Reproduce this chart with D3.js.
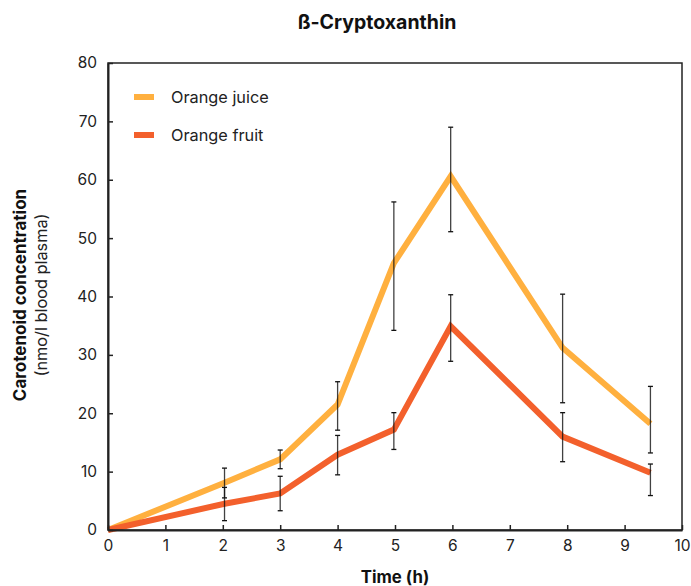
<!DOCTYPE html>
<html>
<head>
<meta charset="utf-8">
<script src="https://cdn.jsdelivr.net/npm/d3@7"></script>
<style>
  body { margin: 0; background: #fff; }
  svg { display: block; font-family: Inter, "Noto Sans", sans-serif; }
</style>
</head>
<body>
<div id="wrapper"></div>
<script>
// time points (h)
const times = [0, 2.03, 3, 4, 4.98, 5.97, 7.92, 9.45];

// Orange juice: mean, upper and lower error bar ends
const juiceMean = [0, 8.1, 12.1, 21.5, 45.7, 60.6, 31.2, 18.2];
const juiceHigh = [null, 10.6, 13.7, 25.4, 56.2, 69.0, 40.4, 24.6];
const juiceLow  = [null, 5.5, 10.5, 17.1, 34.2, 51.1, 21.8, 13.2];

// Orange fruit
const fruitMean = [0, 4.5, 6.25, 12.9, 17.2, 34.9, 16.0, 9.8];
const fruitHigh = [null, 7.3, 9.2, 16.2, 20.1, 40.3, 20.1, 11.3];
const fruitLow  = [null, 1.6, 3.3, 9.45, 13.8, 28.9, 11.7, 5.9];

const xTicks = [0, 1, 2, 3, 4, 5, 6, 7, 8, 9, 10];
const yTicks = [0, 10, 20, 30, 40, 50, 60, 70, 80];

const series = [
    { name: "Orange juice", color: "#ffb03f", mean: juiceMean, hi: juiceHigh, lo: juiceLow },
    { name: "Orange fruit", color: "#f3602c", mean: fruitMean, hi: fruitHigh, lo: fruitLow },
];

const dim = {
    width: 691,
    height: 586,
    margin: { top: 63, left: 108, right: 9, bottom: 56 },
};
dim.boundedWidth = dim.width - dim.margin.left - dim.margin.right;
dim.boundedHeight = dim.height - dim.margin.top - dim.margin.bottom;

const svg = d3.select("#wrapper").append("svg")
    .attr("width", dim.width)
    .attr("height", dim.height);

const g = svg.append("g")
    .attr("transform", `translate(${dim.margin.left},${dim.margin.top})`);

const x = d3.scaleLinear().domain([0, 10]).range([0, dim.boundedWidth]);
const y = d3.scaleLinear().domain([0, 80]).range([dim.boundedHeight, 0]);

// lines
const line = d3.line()
    .x((d, i) => x(times[i]))
    .y(d => y(d));

series.forEach(s => {
    g.append("path")
        .attr("fill", "none")
        .attr("stroke", s.color)
        .attr("stroke-width", 6)
        .attr("d", line(s.mean));
});

// error bars
series.forEach(s => {
    times.forEach((t, i) => {
        if (s.hi[i] == null) return;
        const bx = x(t);
        const eg = g.append("g").attr("stroke", "#111").attr("stroke-width", 1.3);
        eg.append("line").attr("x1", bx).attr("x2", bx).attr("y1", y(s.hi[i])).attr("y2", y(s.lo[i])).attr("stroke-opacity", 0.8);
        [s.hi[i], s.lo[i]].forEach(v => {
            eg.append("line").attr("x1", bx - 2.5).attr("x2", bx + 2.5).attr("y1", y(v)).attr("y2", y(v));
        });
    });
});

// frame
g.append("rect")
    .attr("width", dim.boundedWidth)
    .attr("height", dim.boundedHeight)
    .attr("fill", "none")
    .attr("stroke", "#222")
    .attr("stroke-width", 1.5);

// axes, ticks pointing inward
const xAxis = g.append("g")
    .attr("transform", `translate(0,${dim.boundedHeight})`)
    .call(d3.axisBottom(x).tickValues(xTicks).tickSizeInner(-5).tickSizeOuter(0).tickPadding(10));
const yAxis = g.append("g")
    .call(d3.axisLeft(y).tickValues(yTicks).tickSizeInner(-5).tickSizeOuter(0).tickPadding(11));

[xAxis, yAxis].forEach(a => {
    a.select(".domain").attr("stroke", "#222").attr("stroke-width", 2);
    a.selectAll(".tick line").attr("stroke", "#222").attr("stroke-width", 1.5);
    a.selectAll(".tick text")
        .attr("fill", "#222")
        .style("font-size", "15.5px")
        .style("font-family", "Inter, sans-serif");
});

// legend
series.forEach((s, i) => {
    const ly = 97 + i * 38 - dim.margin.top;
    g.append("line")
        .attr("x1", 26).attr("x2", 46)
        .attr("y1", ly).attr("y2", ly)
        .attr("stroke", s.color).attr("stroke-width", 6);
    g.append("text")
        .attr("x", 63).attr("y", ly)
        .attr("dy", "0.35em")
        .attr("fill", "#222")
        .style("font-size", "16.3px")
        .text(s.name);
});

// title
svg.append("text")
    .attr("x", 377)
    .attr("y", 29)
    .attr("text-anchor", "middle")
    .attr("fill", "#111")
    .style("font-size", "19.5px")
    .style("font-weight", "bold")
    .text("ß-Cryptoxanthin");

// x label
svg.append("text")
    .attr("x", 395)
    .attr("y", 583)
    .attr("text-anchor", "middle")
    .attr("fill", "#111")
    .style("font-size", "16.8px")
    .style("font-weight", "bold")
    .text("Time (h)");

// y label
svg.append("text")
    .attr("transform", "translate(26,295) rotate(-90)")
    .attr("text-anchor", "middle")
    .attr("fill", "#111")
    .style("font-size", "17px")
    .style("font-weight", "bold")
    .text("Carotenoid concentration");
svg.append("text")
    .attr("transform", "translate(47,295) rotate(-90)")
    .attr("text-anchor", "middle")
    .attr("fill", "#222")
    .style("font-size", "16.3px")
    .text("(nmo/l blood plasma)");
</script>
</body>
</html>
